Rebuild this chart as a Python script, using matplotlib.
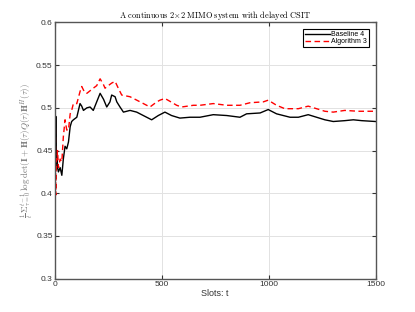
import matplotlib
matplotlib.use('Agg')
import matplotlib.pyplot as plt

plt.rcParams['mathtext.fontset'] = 'cm'
plt.rcParams['font.family'] = ['Liberation Sans', 'DejaVu Sans']

# Baseline 4 (black solid)
t_base = [0, 1, 2, 3, 5, 7, 9, 13, 17, 25, 33, 40, 48, 56, 64, 72, 79, 87, 103,
          118, 126, 134, 150, 165, 180, 196, 212, 228, 243, 258, 266, 282, 290,
          305, 321, 352, 383, 414, 453, 484, 515, 546, 585, 632, 679, 741, 804,
          866, 897, 960, 998, 1037, 1100, 1139, 1185, 1224, 1263, 1302, 1356,
          1396, 1435, 1500]
v_base = [0.29, 0.47, 0.538, 0.44, 0.49, 0.43, 0.445, 0.43, 0.425, 0.43, 0.421,
          0.44, 0.455, 0.452, 0.46, 0.478, 0.484, 0.486, 0.489,
          0.505, 0.502, 0.497, 0.5, 0.501, 0.497, 0.507, 0.517, 0.51, 0.501,
          0.507, 0.515, 0.513, 0.507,
          0.501, 0.495, 0.497, 0.495, 0.491, 0.486, 0.491, 0.495, 0.491, 0.488,
          0.489, 0.489, 0.492, 0.491,
          0.489, 0.493, 0.494, 0.498, 0.493, 0.489, 0.489, 0.492, 0.489, 0.486,
          0.484, 0.485, 0.486, 0.485, 0.484]

# Algorithm 3 (red dashed)
t_alg = [0, 1, 2, 3, 5, 7, 9, 13, 17, 25, 33, 40, 48, 56, 64, 72, 79, 87, 103,
         118, 126, 140, 150, 165, 180, 196, 212, 228, 235, 250, 266, 282, 297,
         313, 352, 399, 445, 477, 492, 515, 543, 570, 593, 648, 679, 741, 804,
         866, 913, 975, 998, 1037, 1076, 1139, 1185, 1224, 1263, 1302, 1356,
         1419, 1466, 1500]
v_alg = [0.29, 0.45, 0.51, 0.46, 0.398, 0.44, 0.439, 0.45, 0.43, 0.44, 0.437,
         0.466, 0.486, 0.474, 0.474, 0.493, 0.497, 0.505, 0.505,
         0.519, 0.525, 0.518, 0.517, 0.52, 0.523, 0.526, 0.534, 0.527, 0.523,
         0.526, 0.529, 0.531, 0.523,
         0.515, 0.513, 0.507, 0.501, 0.507, 0.509, 0.511, 0.507, 0.503, 0.501,
         0.503, 0.503, 0.505, 0.503,
         0.503, 0.506, 0.507, 0.509, 0.503, 0.499, 0.499, 0.502, 0.499, 0.496,
         0.495, 0.497, 0.496, 0.496, 0.496]

fig = plt.figure(figsize=(4.15, 3.12), dpi=100)
ax = fig.add_axes([0.132, 0.107, 0.773, 0.821])

ax.plot(t_base, v_base, color='black', lw=1.0, label='Baseline 4')
ax.plot(t_alg, v_alg, color='red', lw=1.0, ls=(0, (4, 2.5)), label='Algorithm 3')

ax.set_xlim(0, 1500)
ax.set_ylim(0.3, 0.6)
ax.set_xticks([0, 500, 1000, 1500])
ax.set_yticks([0.3, 0.35, 0.4, 0.45, 0.5, 0.55, 0.6])
ax.set_yticklabels(['0.3', '0.35', '0.4', '0.45', '0.5', '0.55', '0.6'])
ax.grid(True, color='#e2e2e2', lw=0.7)
ax.set_axisbelow(True)
ax.tick_params(direction='in', top=True, right=True, length=3, width=0.8,
               labelsize=6, colors='#333333', pad=1.5)
for s in ax.spines.values():
    s.set_color('#555555')
    s.set_linewidth(1.0)

ax.set_title(r'$\mathrm{A\ continuous\ 2{\times}2\ MIMO\ system\ with\ delayed\ CSIT}$',
             fontsize=6, pad=3)
ax.set_xlabel('Slots: t', fontsize=6.5, color='#333333', labelpad=1)
ax.set_ylabel(r'$\frac{1}{t}\,\Sigma_{\tau=0}^{t-1}\,\log\det(\mathbf{I}+\mathbf{H}(\tau)Q(\tau)\mathbf{H}^H(\tau))$',
              fontsize=6.5, color='#777777', labelpad=1)

leg = ax.legend(loc='upper right', fontsize=5, fancybox=False, framealpha=1,
                edgecolor='black', handlelength=3.6, borderpad=0.25,
                labelspacing=0.05, handletextpad=0.2, borderaxespad=1.0)
leg.get_frame().set_linewidth(0.8)

fig.savefig('out.png', dpi=100)
